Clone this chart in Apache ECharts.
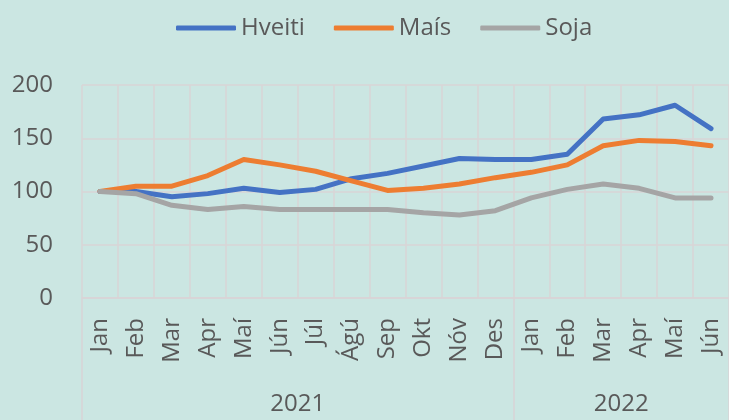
<!DOCTYPE html>
<html>
<head>
<meta charset="utf-8">
<script src="https://cdn.jsdelivr.net/npm/echarts@6/dist/echarts.min.js"></script>
<style>
  html, body { margin: 0; padding: 0; background: #cbe6e2; }
  #chart { width: 729px; height: 420px; }
</style>
</head>
<body>
<div id="chart"></div>
<script>
// Month labels (2021 Jan .. 2022 Jún)
const months = ["Jan", "Feb", "Mar", "Apr", "Maí", "Jún", "Júl", "Ágú", "Sep", "Okt", "Nóv", "Des",
  "Jan", "Feb", "Mar", "Apr", "Maí", "Jún"];
const years = ["2021", "2022"];
// year group centres and separators, in month units
const yearCenters = [6, 15];
const yearBreaks = [0, 12, 18];

const hveiti = [100, 100, 95, 98, 103, 99, 102, 112, 117, 124, 131, 130, 130, 135, 168, 172, 181, 159];
const mais = [100, 105, 105, 115, 130, 125, 119, 110, 101, 103, 107, 113, 118, 125, 143, 148, 147, 143];
const soja = [100, 98, 87, 83, 86, 83, 83, 83, 83, 80, 78, 82, 94, 102, 107, 103, 94, 94];

const textColor = "#595959";
const gridColor = "#d9d4d6";
const font = "Open Sans";

const chart = echarts.init(document.getElementById("chart"));

const line = (name, data, color) => ({
  name: name,
  type: "line",
  data: data,
  symbol: "none",
  xAxisIndex: 0,
  lineStyle: { width: 5, color: color, cap: "round", join: "round" },
  itemStyle: { color: color },
});

chart.setOption({
  backgroundColor: "#cbe6e2",
  animation: false,
  textStyle: { fontFamily: font },
  legend: {
    left: 171,
    top: 11,
    icon: "roundRect",
    itemWidth: 60,
    itemHeight: 5,
    itemGap: 29,
    textStyle: { fontSize: 24, color: textColor, fontFamily: font },
    data: ["Hveiti", "Maís", "Soja"],
  },
  grid: { left: 82, top: 85, width: 651, height: 213, containLabel: false },
  xAxis: [
    {
      type: "category",
      data: months,
      boundaryGap: true,
      axisLine: { lineStyle: { color: gridColor, width: 1.5 } },
      axisTick: { show: false },
      splitLine: { show: true, lineStyle: { color: gridColor, width: 1.5 } },
      axisLabel: {
        rotate: 90,
        margin: 20,
        interval: 0,
        fontSize: 24,
        color: textColor,
        fontFamily: font,
      },
    },
    {
      type: "value",
      position: "bottom",
      min: 0,
      max: 18,
      axisLine: { show: false },
      splitLine: { show: false },
      axisTick: {
        show: true,
        customValues: yearBreaks,
        length: 125,
        lineStyle: { color: gridColor, width: 1.5 },
      },
      axisLabel: {
        customValues: yearCenters,
        margin: 94,
        fontSize: 24,
        color: textColor,
        fontFamily: font,
        formatter: (v) => years[yearCenters.indexOf(v)] || "",
      },
    },
  ],
  yAxis: {
    type: "value",
    min: 0,
    max: 200,
    interval: 50,
    axisLine: { show: false },
    axisTick: { show: false },
    splitLine: { lineStyle: { color: gridColor, width: 1.5 } },
    axisLabel: { margin: 29, fontSize: 24, color: textColor, fontFamily: font },
  },
  series: [
    line("Hveiti", hveiti, "#4472c4"),
    line("Maís", mais, "#ed7d31"),
    line("Soja", soja, "#a5a5a5"),
  ],
});
</script>
</body>
</html>
